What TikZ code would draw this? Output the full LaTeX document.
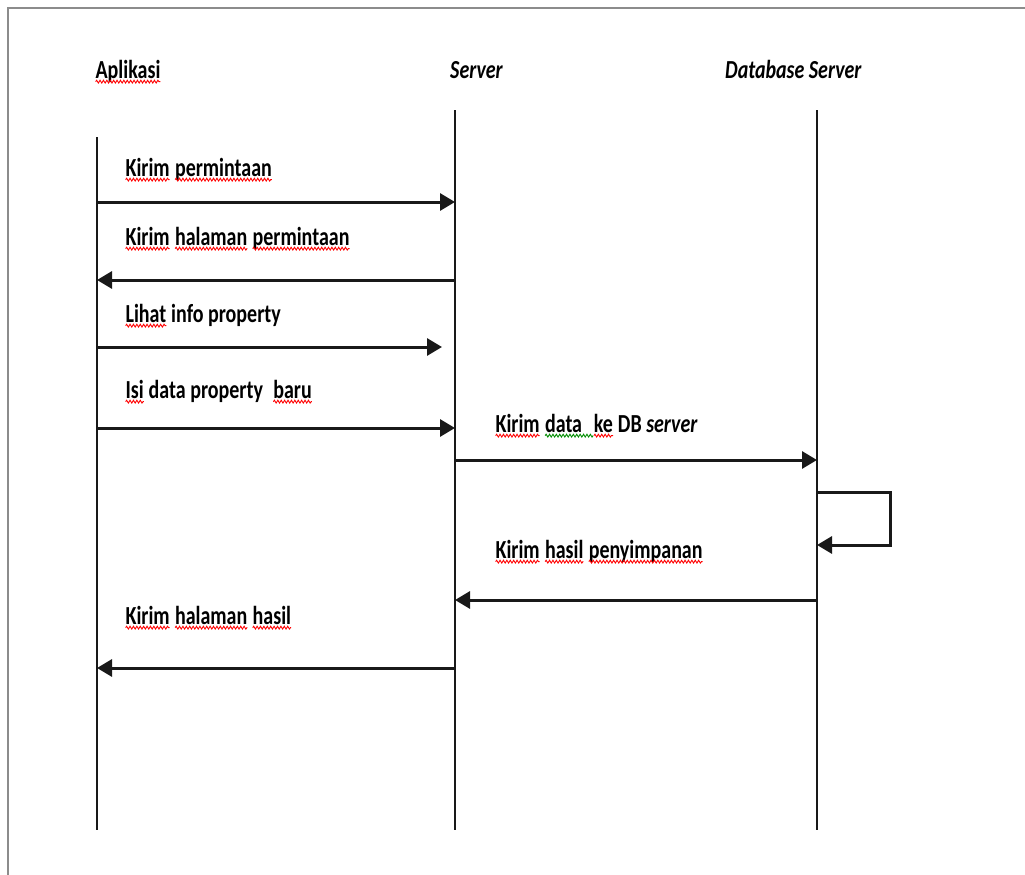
\documentclass[tikz,border=0pt]{standalone}
\usepackage{fontspec}
\setmainfont{Carlito}
\usepackage{graphicx}
\usetikzlibrary{arrows.meta,decorations.pathmorphing}
\tikzset{wavy/.style={line width=0.8pt,decorate,decoration={snake,amplitude=1.1pt,segment length=3.4pt}}}
\newcommand\wv[2]{\tikz[baseline=(w.base)]{\node[inner sep=0pt,outer sep=0pt] (w) {#2};
  \draw[wavy,#1] ([yshift=-2.8pt]w.base west) -- ([yshift=-2.8pt]w.base east);}}
\newcommand\rw[1]{\wv{red}{#1}}
\newcommand\gw[1]{\wv{green!55!black}{#1}}
\newcommand\tx[1]{\scalebox{1}[1.3]{#1}}
\begin{document}
\begin{tikzpicture}[x=1pt,y=1pt,
  lbl/.style={anchor=base west,inner sep=0pt,font=\fontsize{20}{24}\selectfont\bfseries},
  life/.style={line width=2.2pt,black!90},
  msg/.style={line width=3pt,black!90,-{Triangle[length=15pt,width=17pt]}},
  frame/.style={line width=2pt,black!45}]
\useasboundingbox (0,0) rectangle (1025,-875);
\draw[frame] (8,-875) -- (8,-8) -- (1025,-8);
% headers
\node[lbl] (hA) at (95,-78) {\tx{\rw{Aplikasi}}};
\node[lbl] (hS) at (450,-78) {\tx{\itshape Server}};
\node[lbl] (hD) at (725,-78) {\tx{\itshape Database Server}};
% lifelines
\coordinate (At) at (97,-137); \coordinate (Ab) at (97,-830);
\coordinate (St) at (455,-110); \coordinate (Sb) at (455,-830);
\coordinate (Dt) at (817,-110); \coordinate (Db) at (817,-830);
\draw[life] (At) -- (Ab);
\draw[life] (St) -- (Sb);
\draw[life] (Dt) -- (Db);
% message end points
\coordinate (a1) at (97,-202); \coordinate (s1) at (455,-202);
\coordinate (a2) at (97,-280); \coordinate (s2) at (455,-280);
\coordinate (a3) at (97,-347); \coordinate (s3) at (442,-347);
\coordinate (a4) at (97,-428); \coordinate (s4) at (455,-428);
\coordinate (s5) at (455,-460); \coordinate (d5) at (817,-460);
\coordinate (d6) at (817,-492); \coordinate (l1) at (890,-492);
\coordinate (l2) at (890,-545); \coordinate (d7) at (817,-545);
\coordinate (d8) at (817,-600); \coordinate (s8) at (455,-600);
\coordinate (s9) at (455,-668); \coordinate (a9) at (97,-668);
% messages
\draw[msg] (a1) -- (s1);
\draw[msg] (s2) -- (a2);
\draw[msg] (a3) -- (s3);
\draw[msg] (a4) -- (s4);
\draw[msg] (s5) -- (d5);
\draw[msg] (d6) -- (l1) -- (l2) -- (d7);
\draw[msg] (d8) -- (s8);
\draw[msg] (s9) -- (a9);
% labels
\node[lbl] (m1) at (125,-176) {\tx{\rw{Kirim} \rw{permintaan}}};
\node[lbl] (m2) at (125,-245) {\tx{\rw{Kirim} \rw{halaman} \rw{permintaan}}};
\node[lbl] (m3) at (125,-322) {\tx{\rw{Lihat} info property}};
\node[lbl] (m4) at (125,-398) {\tx{\rw{Isi} data property\kern0.5em\rw{baru}}};
\node[lbl] (m5) at (495,-432) {\tx{\rw{Kirim} \gw{data\kern0.55em}\rw{ke} DB \itshape server}};
\node[lbl] (m6) at (495,-558) {\tx{\rw{Kirim} \rw{hasil} \rw{penyimpanan}}};
\node[lbl] (m7) at (125,-624) {\tx{\rw{Kirim} \rw{halaman} \rw{hasil}}};
\end{tikzpicture}
\end{document}
